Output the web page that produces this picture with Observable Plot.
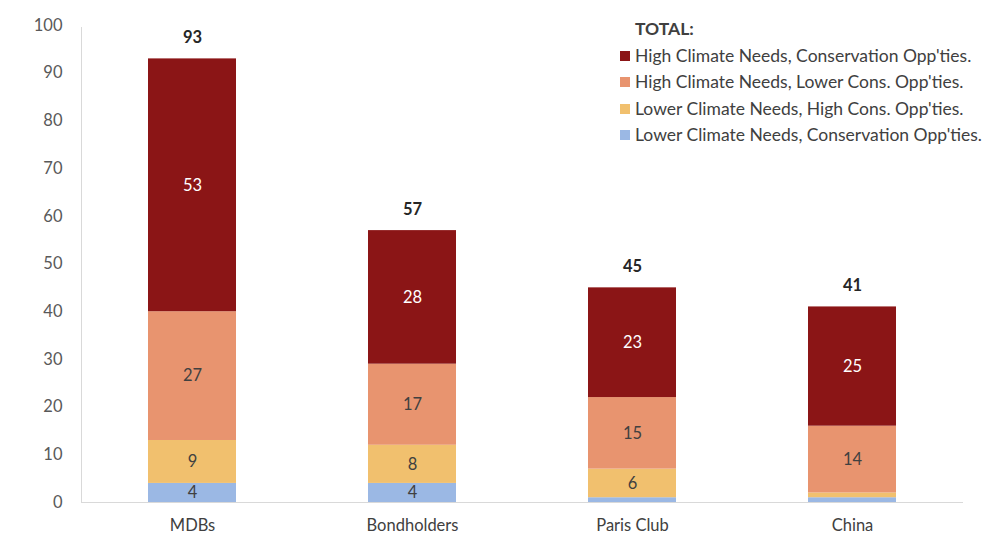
<!DOCTYPE html>
<html><head><meta charset="utf-8">
<script src="https://cdn.jsdelivr.net/npm/d3@7"></script>
<script src="https://cdn.jsdelivr.net/npm/@observablehq/plot@0.6"></script>
<style>
body{margin:0;background:#fff;font-family:Lato,"Open Sans",sans-serif;}
#wrap{position:relative;width:1000px;height:541px;}
#legend{position:absolute;left:620px;top:16px;font-size:17.5px;color:#404040;line-height:26.5px;}
#legend .t{font-weight:bold;margin-left:15px;}
#legend .r{display:flex;align-items:center;white-space:nowrap;}
#legend .s{width:10px;height:10px;margin-right:5px;flex:none;}
</style></head><body>
<div id="wrap"><div id="legend"></div></div>
<script>
const categories = ["MDBs", "Bondholders", "Paris Club", "China"];
const series = [
  "Lower Climate Needs, Conservation Opp'ties.",
  "Lower Climate Needs, High Cons. Opp'ties.",
  "High Climate Needs, Lower Cons. Opp'ties.",
  "High Climate Needs, Conservation Opp'ties."
];
const colors = ["#9bb8e4", "#f1c06e", "#e8946f", "#8b1516"];
const lowerConsLowerNeeds = [4, 4, 1, 1];
const lowerNeedsHighCons = [9, 8, 6, 1];
const highNeedsLowerCons = [27, 17, 15, 14];
const highNeedsCons = [53, 28, 23, 25];
const totals = [93, 57, 45, 41];
const yTicks = [0,10,20,30,40,50,60,70,80,90,100];

const seriesValues = [lowerConsLowerNeeds, lowerNeedsHighCons, highNeedsLowerCons, highNeedsCons];
const data = [];
categories.forEach((c, i) => seriesValues.forEach((vals, s) => data.push({cat: c, series: series[s], value: vals[i], dark: s === 3})));
const totalData = categories.map((c, i) => ({cat: c, total: totals[i]}));

const leftLine = (index, scales, values, dim) => {
  const l = document.createElementNS("http://www.w3.org/2000/svg", "line");
  l.setAttribute("x1", dim.marginLeft + 0.5); l.setAttribute("x2", dim.marginLeft + 0.5);
  l.setAttribute("y1", scales.y(100) + 2); l.setAttribute("y2", scales.y(0));
  l.setAttribute("stroke", "#d9d9d9");
  return l;
};

const chart = Plot.plot({
  width: 1000, height: 541,
  marginLeft: 81, marginRight: 37, marginTop: 25, marginBottom: 39,
  style: {fontFamily: "Lato, 'Open Sans', sans-serif", fontSize: "16.5px", color: "#595959", background: "white"},
  x: {domain: categories, paddingInner: 0.6, paddingOuter: 0.3, label: null},
  y: {domain: [0, 100], label: null},
  color: {domain: series, range: colors},
  marks: [
    Plot.barY(data, {x: "cat", y: "value", fill: "series", z: "series"}),
    leftLine,
    Plot.ruleY([0], {stroke: "#d9d9d9"}),
    Plot.axisY({ticks: yTicks, tickSize: 0, tickPadding: 19, fontSize: 16.5, fill: "#595959"}),
    Plot.axisX({tickSize: 0, tickPadding: 17, fontSize: 16.5, fill: "#404040"}),
    Plot.text(data, Plot.stackY({x: "cat", y: "value", z: "series", text: d => d.value >= 3 ? String(d.value) : "", fill: d => d.dark ? "white" : "#404040", fontSize: 16.5})),
    Plot.text(totalData, {x: "cat", y: "total", text: d => String(d.total), dy: -21, fontWeight: "bold", fontSize: 16.5, fill: "#262626"})
  ]
});
document.getElementById("wrap").prepend(chart);

const lg = document.getElementById("legend");
lg.innerHTML = '<div class="t">TOTAL:</div>' + [3,2,1,0].map(s =>
  `<div class="r"><span class="s" style="background:${colors[s]}"></span>${series[s]}</div>`).join("");
</script>
</body></html>
